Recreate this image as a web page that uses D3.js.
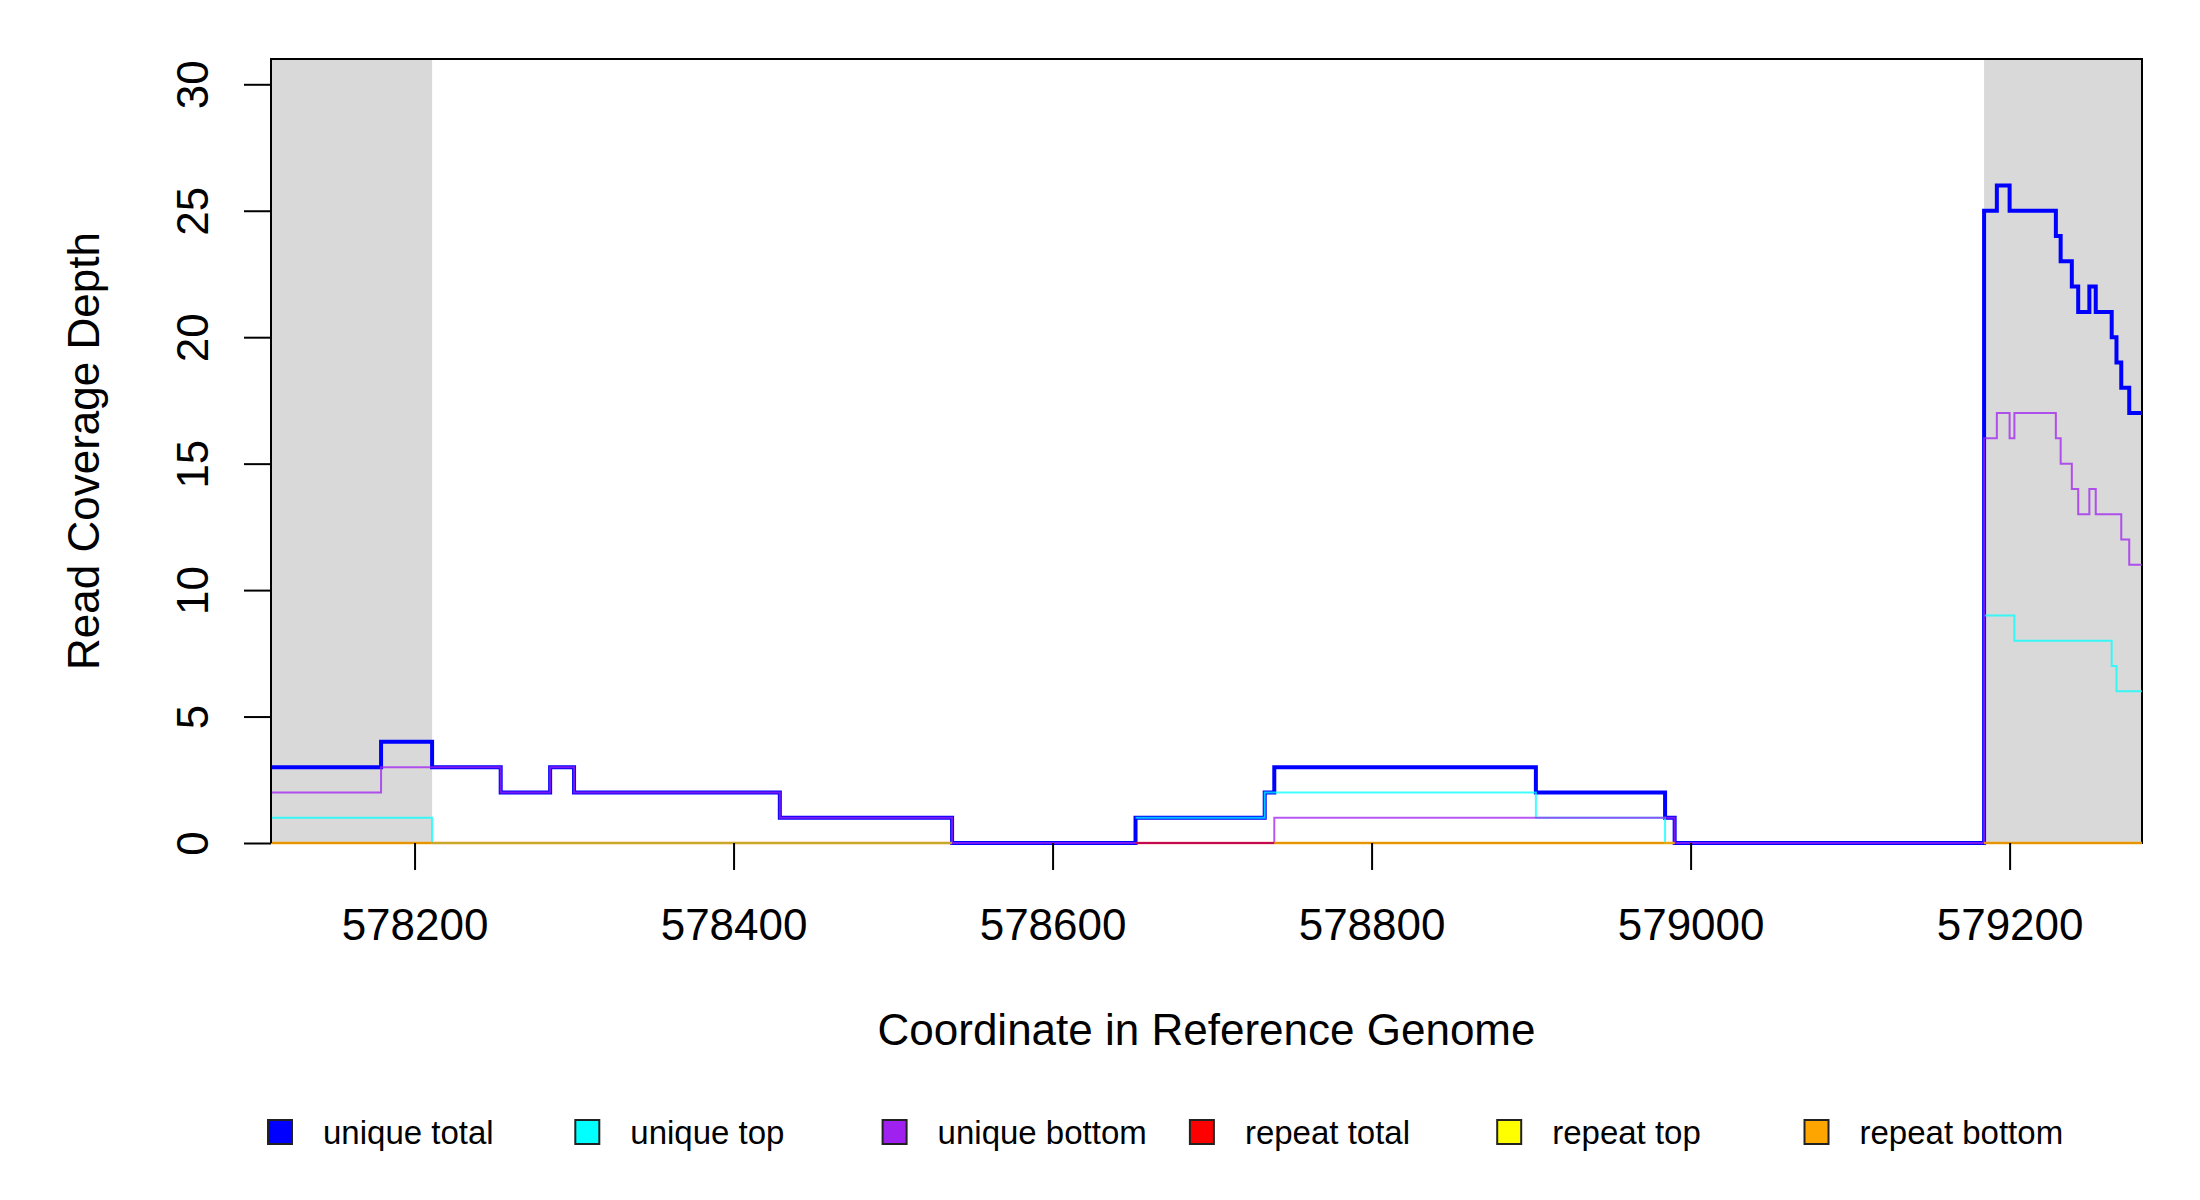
<!DOCTYPE html>
<html>
<head>
<meta charset="utf-8">
<script src="https://cdn.jsdelivr.net/npm/d3@7"></script>
<style>
  html, body { margin: 0; padding: 0; background: #fff; }
  svg { display: block; font-family: "Liberation Sans", Arial, sans-serif; }
</style>
</head>
<body>
<svg id="chart" width="2200" height="1200"></svg>
<script>
// ---- data ----
const breaks = [578110, 578179, 578211, 578254, 578285, 578300, 578429, 578537, 578652, 578733,
                578739, 578903, 578984, 578990, 579184, 579192, 579200, 579203, 579229, 579232,
                579239, 579243, 579250, 579254, 579264, 579267, 579270, 579275, 579283];
const uniqueTotal  = [3, 4, 3, 2, 3, 2, 1, 0, 1, 2, 3, 2, 1, 0, 25, 26, 25, 25, 24, 23, 22, 21, 22, 21, 20, 19, 18, 17];
const uniqueTop    = [1, 1, 0, 0, 0, 0, 0, null, 1, 2, 2, 1, 0, null, 9, 9, 9, 8, 8, 8, 8, 8, 8, 8, 7, 6, 6, 6];
const uniqueBottom = [2, 3, 3, 2, 3, 2, 1, 0, 0, 0, 1, 1, 1, 0, 16, 17, 16, 17, 16, 15, 14, 13, 14, 13, 13, 13, 12, 11];
const repeatTotal  = [null, null, 0, 0, 0, 0, 0, null, 0, 0, null, null, null, null, null, null, null, null, null, null, null, null, null, null, null, null, null, null];
const repeatTop    = [null, null, 0, 0, 0, 0, 0, null, null, null, null, null, null, null, null, null, null, null, null, null, null, null, null, null, null, null, null, null];
const repeatBottom = [0, 0, null, null, null, null, null, null, null, null, 0, 0, 0, null, 0, 0, 0, 0, 0, 0, 0, 0, 0, 0, 0, 0, 0, 0];
const flankRegions = [[578110, 578211], [579184, 579283]];
const xTicks = [578200, 578400, 578600, 578800, 579000, 579200];
const yTicks = [0, 5, 10, 15, 20, 25, 30];
const seriesNames = ["unique total", "unique top", "unique bottom", "repeat total", "repeat top", "repeat bottom"];

// ---- styles ----
const seriesColors = ["#0000FF", "#00FFFF", "#A020F0", "#FF0000", "#FFFF00", "#FFA500"];
const seriesWidths = [4, 2, 2, 2.5, 2.5, 2.5];
const seriesOpacity = [1, 0.75, 0.75, 0.55, 0.5, 0.9];
const seriesData = [uniqueTotal, uniqueTop, uniqueBottom, repeatTotal, repeatTop, repeatBottom];

const L = 271, R = 2142, T = 59, B = 843;
const svg = d3.select("#chart");
const x = d3.scaleLinear().domain([578110, 579283]).range([L, R]);
const y = d3.scaleLinear().domain([0, 31]).range([B, T]);

// flanking shaded regions
svg.selectAll("rect.flank").data(flankRegions).enter().append("rect")
  .attr("x", d => x(d[0])).attr("y", T)
  .attr("width", d => x(d[1]) - x(d[0])).attr("height", B - T)
  .attr("fill", "#D9D9D9");

// box
svg.append("rect").attr("x", L).attr("y", T).attr("width", R - L).attr("height", B - T)
  .attr("fill", "none").attr("stroke", "#000").attr("stroke-width", 2);

// step lines
function toPoints(vals) {
  const pts = [];
  vals.forEach((v, i) => {
    pts.push({x: breaks[i], v: v});
    pts.push({x: breaks[i + 1], v: v});
  });
  return pts;
}
const line = d3.line().defined(d => d.v !== null).x(d => x(d.x)).y(d => y(d.v));
seriesData.forEach((vals, i) => {
  svg.append("path").attr("d", line(toPoints(vals)))
    .attr("fill", "none").attr("stroke", seriesColors[i])
    .attr("stroke-width", seriesWidths[i]).attr("stroke-opacity", seriesOpacity[i])
    .attr("stroke-linejoin", "miter").attr("stroke-linecap", "butt");
});

// x axis
const xAxis = d3.axisBottom(x).tickValues(xTicks).tickFormat(d3.format("d")).tickSize(27);
const gx = svg.append("g").attr("transform", `translate(0,${B})`).call(xAxis);
gx.select(".domain").remove();
gx.selectAll(".tick line").attr("stroke", "#000").attr("stroke-width", 2);
gx.selectAll(".tick text").attr("font-size", 44).attr("fill", "#000")
  .attr("font-family", "Liberation Sans, Arial, sans-serif")
  .attr("y", 97).attr("dy", null);

// y axis
const yAxis = d3.axisLeft(y).tickValues(yTicks).tickSize(27).tickFormat(d3.format("d"));
const gy = svg.append("g").attr("transform", `translate(${L},0)`).call(yAxis);
gy.select(".domain").attr("d", `M0,${y(0)}V${y(30)}`).attr("stroke", "#000").attr("stroke-width", 2);
gy.selectAll(".tick line").attr("stroke", "#000").attr("stroke-width", 2);
gy.selectAll(".tick text").attr("font-size", 44).attr("fill", "#000")
  .attr("font-family", "Liberation Sans, Arial, sans-serif")
  .attr("x", null).attr("dy", null)
  .attr("text-anchor", "middle")
  .attr("transform", "translate(-63,0) rotate(-90)");

// axis titles
svg.append("text").attr("x", (L + R) / 2).attr("y", 1045).attr("text-anchor", "middle")
  .attr("font-size", 44).text("Coordinate in Reference Genome");
svg.append("text").attr("transform", `translate(99,${(T + B) / 2}) rotate(-90)`)
  .attr("text-anchor", "middle").attr("font-size", 44).text("Read Coverage Depth");

// legend
const lg = svg.append("g");
const items = lg.selectAll("g.item").data(seriesNames).enter().append("g")
  .attr("transform", (d, i) => `translate(${268 + i * 307.3},1132)`);
items.append("rect").attr("x", 0).attr("y", -12).attr("width", 24).attr("height", 24)
  .attr("fill", (d, i) => seriesColors[i]).attr("stroke", "#222").attr("stroke-width", 2);
items.append("text").attr("x", 55).attr("y", 12).attr("font-size", 33).text(d => d);
</script>
</body>
</html>
